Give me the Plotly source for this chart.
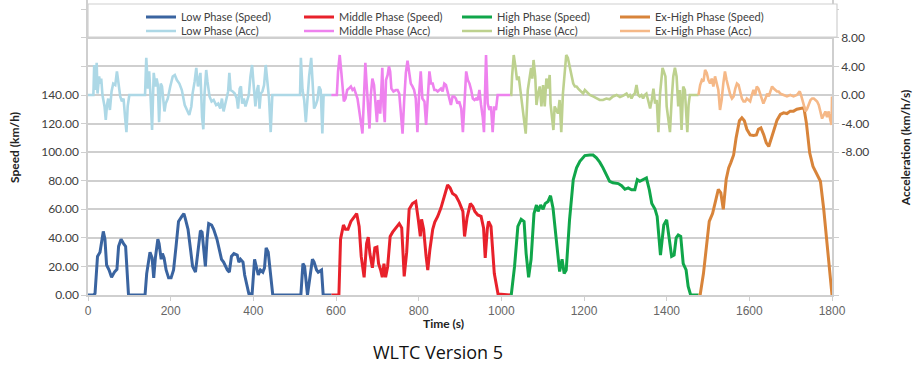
import plotly.graph_objects as go

# ---------------- data ----------------
low_t = [0, 13, 17, 23, 29, 35, 37, 41, 45, 51, 57, 64, 70, 74, 80, 86, 91, 98, 138, 142, 150, 155, 159, 163, 169, 172, 177, 180, 184, 189, 195, 201, 207, 213, 219, 227, 232, 235, 242, 248, 253, 260, 265, 272, 276, 280, 284, 288, 292, 299, 304, 312, 318, 323, 328, 337, 342, 347, 353, 361, 365, 369, 375, 379, 389, 397, 403, 407, 412, 417, 423, 427, 431, 436, 442, 447, 515, 520, 524, 531, 543, 547, 553, 557, 565, 569, 589]
low_v = [0, 0, 1, 27, 30, 44, 44.5, 39, 21, 17.5, 12.4, 16, 18, 34, 39, 36, 34, 0, 0, 15, 30, 26, 12, 26, 39, 36, 25, 29, 26, 17.5, 12, 12, 17.5, 34, 51.5, 55, 57, 54, 46, 32, 20, 16, 29, 45, 44, 32, 20, 39, 50, 49, 46, 39, 32, 25, 23, 17.5, 16, 27, 29, 28, 23, 25, 23, 14, 1, 0.5, 25, 20, 14, 17.5, 16, 19, 33, 30, 10.5, 0, 0, 22, 20, 0, 25, 23, 17.5, 16, 17.5, 0, 0]

mid_t = [589, 607, 611, 618, 623, 629, 636, 642, 650, 656, 661, 668, 674, 678, 682, 688, 694, 699, 703, 708, 712, 716, 720, 725, 731, 737, 745, 753, 759, 765, 771, 777, 785, 793, 799, 804, 807, 812, 818, 822, 827, 834, 839, 846, 854, 862, 870, 876, 882, 890, 898, 907, 911, 917, 925, 931, 936, 943, 951, 957, 961, 966, 969, 975, 983, 992, 1022]
mid_v = [0, 0, 39, 49, 46, 46, 51.5, 54, 57, 48, 27, 12.4, 36, 40.5, 29, 19, 33, 33.5, 22, 17.5, 12.4, 22, 12.4, 20, 41, 44, 47, 50, 47, 13, 30, 60, 64, 65.5, 53, 41, 53, 46, 27, 17.5, 31.5, 46, 51, 55, 61, 69, 77, 75, 71, 69.5, 65, 58.5, 41, 54, 64, 62, 58.5, 56, 55, 47, 26, 46, 51.5, 48, 15, 0.7, 0]

high_t = [1022, 1024, 1032, 1040, 1048, 1055, 1060, 1066, 1072, 1079, 1085, 1089, 1095, 1101, 1106, 1113, 1119, 1125, 1133, 1141, 1147, 1152, 1157, 1165, 1174, 1182, 1190, 1202, 1214, 1222, 1230, 1238, 1246, 1254, 1262, 1270, 1283, 1291, 1299, 1307, 1315, 1323, 1329, 1335, 1343, 1351, 1358, 1364, 1372, 1377, 1385, 1393, 1400, 1406, 1412, 1418, 1423, 1428, 1434, 1440, 1447, 1452, 1458, 1477]
high_v = [0, 0, 20, 48, 53, 51.5, 29, 12.4, 25, 57, 63, 58.5, 63, 60, 64, 65.5, 69.5, 61, 38.6, 16.4, 25, 15, 17.5, 52.6, 80.7, 89, 93.6, 97.6, 98, 98, 96, 93, 89, 84, 79.6, 78.5, 78, 76.5, 74, 75, 73.7, 73.7, 80.7, 79.6, 80.7, 82, 73.7, 64, 60, 55, 28, 49, 52.6, 38.6, 27, 28, 40, 42, 41, 22, 17.5, 6, 0, 0]

exh_t = [1477, 1481, 1489, 1497, 1503, 1511, 1520, 1525, 1531, 1537, 1544, 1550, 1555, 1562, 1568, 1576, 1582, 1588, 1594, 1602, 1610, 1617, 1622, 1628, 1635, 1641, 1647, 1652, 1659, 1667, 1675, 1683, 1691, 1699, 1707, 1715, 1723, 1732, 1738, 1746, 1754, 1764, 1772, 1780, 1788, 1796, 1800]
exh_v = [0, 0, 15, 36, 51.5, 57, 69, 74, 71.5, 60, 81, 89, 92.5, 98, 110, 122, 124, 122, 116, 112, 111.6, 112, 116, 117, 112, 106.5, 104, 108, 115, 122.4, 126.4, 127.5, 127, 128.7, 128.7, 130, 130.3, 131, 120.5, 99.5, 90, 84, 79.6, 60, 34, 10.5, 0]

low_acc_t = [0, 13, 15, 19, 21, 23, 27, 29, 32, 35, 40, 43, 46, 49, 53, 57, 61, 66, 70, 74, 78, 82, 86, 90, 93, 96, 100, 138, 141, 145, 148, 151, 155, 159, 163, 166, 169, 172, 176, 179, 182, 185, 188, 193, 199, 205, 210, 215, 221, 227, 234, 239, 245, 250, 253, 258, 262, 266, 272, 276, 279, 282, 286, 289, 294, 299, 304, 310, 315, 320, 324, 328, 333, 339, 342, 345, 350, 355, 360, 363, 367, 370, 373, 377, 381, 385, 389, 393, 397, 401, 405, 409, 412, 415, 418, 422, 426, 430, 434, 438, 442, 446, 513, 515, 519, 523, 527, 531, 535, 540, 543, 547, 551, 555, 559, 563, 567, 570, 589]
low_acc_v = [0, 0, 4.2, 0.7, 4.5, 0.2, 2.6, 1.6, 2.3, 0, -1.6, -3.5, -1.4, -0.5, -2.1, 0.5, 1.6, 1.4, 3.3, 1.6, -0.2, -0.9, -0.5, -3.3, -5.2, -1.6, 0, 0, 5.2, 0.9, 3.3, 0.2, -4.9, 3.1, 1.2, 2.3, 1.4, -3.8, 1.6, 1.2, -1.2, -2.3, -1.2, -0.5, 1.2, 2.6, 2.8, 2.1, 1.6, 0.7, -1.4, -2.1, -2.8, -1.6, 0.2, 1.9, 3.8, 1.2, 3.1, -3.1, -4.8, 0.2, 3.5, 1.9, -0.2, -0.9, -0.7, -1.4, -1.2, -1.9, -0.5, -2.3, -0.9, 0.5, 3.1, 0.7, 0.5, 0.2, -0.5, -1.9, 0.9, 1.2, -1.2, -0.5, -1.6, -0.9, 0, 2.6, 4.2, 1.2, -1.6, 0.7, 1.4, -1.9, 0.2, 0.5, 1.4, 4.2, 1.2, -0.5, -5.2, 0, 0, 5.2, 0.7, -0.7, -3.8, 0, 2.6, 5.2, 1.2, -1.9, -1.4, -0.7, 1.2, 0.7, -5.4, 0, 0]

mid_acc_t = [589, 602, 605, 609, 613, 616, 619, 623, 627, 631, 636, 640, 644, 648, 652, 656, 660, 664, 668, 671, 674, 678, 681, 684, 688, 692, 696, 699, 702, 707, 710, 712, 715, 718, 721, 725, 728, 731, 734, 739, 745, 749, 753, 757, 761, 765, 769, 773, 777, 781, 785, 789, 793, 797, 801, 805, 809, 814, 818, 822, 826, 830, 834, 838, 842, 846, 850, 854, 858, 862, 866, 870, 874, 878, 882, 886, 890, 894, 898, 903, 907, 911, 915, 919, 923, 927, 931, 935, 939, 943, 947, 951, 955, 958, 961, 963, 967, 971, 975, 979, 983, 987, 991, 1022]
mid_acc_v = [0, 0, 3.3, 5.6, 3.1, 0.7, -0.9, -0.5, 0.7, 0.9, 1.2, 0.7, 0.9, 0.2, -0.5, -2.1, -4, -5.4, 0.2, 4.5, 1.6, -2.1, -4.7, -0.2, 2.3, 1.4, -2.1, -3.8, -0.7, -2.6, 1.2, 3.8, -1.6, -3.8, 2.1, 2.8, 4, 3.3, 0.9, 0.5, 0.7, 0.7, 0.2, -2.3, -5.4, -0.7, 3.1, 4.8, 3.3, 1.6, 1.2, 0.7, -0.5, -5.2, 0, 3.3, -0.5, -0.9, -4.2, -0.2, 3.3, 1.6, 1.6, 0.7, 0.7, 0.5, 0.7, 0.9, 0.5, 1.6, 1.4, 0.5, -0.5, -1.4, -0.2, -0.2, -0.5, -1.2, -0.9, -1.9, -5.2, 0.2, 3.3, 2.1, 1.6, 0.7, -0.5, -0.7, -0.5, -0.7, 0.7, -1.4, -3.1, -5.2, 0.7, 5.6, -1.2, -2.1, -1.6, -5.2, -1.6, -2.1, 0, 0]

high_acc_t = [1022, 1024, 1026, 1030, 1034, 1038, 1042, 1046, 1051, 1055, 1059, 1064, 1068, 1072, 1075, 1078, 1082, 1085, 1089, 1093, 1097, 1101, 1105, 1109, 1113, 1117, 1119, 1123, 1126, 1129, 1133, 1137, 1141, 1145, 1149, 1153, 1157, 1161, 1165, 1169, 1174, 1178, 1182, 1186, 1190, 1194, 1198, 1202, 1206, 1214, 1222, 1230, 1238, 1246, 1254, 1262, 1270, 1279, 1287, 1295, 1303, 1307, 1311, 1315, 1319, 1323, 1327, 1331, 1335, 1339, 1343, 1347, 1351, 1355, 1360, 1364, 1368, 1372, 1376, 1380, 1384, 1388, 1390, 1393, 1397, 1400, 1404, 1408, 1412, 1416, 1420, 1424, 1428, 1432, 1436, 1440, 1444, 1447, 1450, 1453, 1456, 1477]
high_acc_v = [0, 0, 2.6, 5.6, 4, 2.1, 2.6, 0.7, -1.2, -3.1, -5.4, 0.7, 2.1, 3.8, 2.3, 4.9, 2.6, -1.4, 0.2, 1.2, -1.6, 1.4, -1.6, 2.3, 0.9, 2.8, -1.2, -3.3, -4.9, -1.6, -2.1, -2.6, -0.7, -5.2, 0.2, 2.6, 5.6, 5.2, 4.2, 3.1, 1.6, 1.2, 1.2, 0.9, 0.7, 0.5, 0.2, 0.7, 0.5, 0, -0.2, -0.5, -0.7, -0.7, -0.5, -0.6, -0.2, 0, -0.3, -0.1, 0.2, -0.2, 0, -0.5, 0, 0.2, 1.4, 0, -0.2, 0, -0.5, 0, 0.2, -0.7, -1.9, -0.7, 0.9, -1.2, -0.7, -5.2, 0.2, 2.6, 3.8, 3.3, 2.6, -1.6, -3.5, -5.2, -0.7, 2.6, 3.8, 2.6, -1.6, 0.7, -4.9, 1.2, 0.7, -1.6, -5.2, -1.4, 0, 0]

exh_acc_t = [1477, 1481, 1485, 1489, 1493, 1497, 1501, 1505, 1509, 1513, 1517, 1521, 1525, 1529, 1533, 1537, 1541, 1545, 1550, 1554, 1558, 1562, 1566, 1570, 1574, 1578, 1582, 1586, 1590, 1594, 1598, 1602, 1606, 1610, 1614, 1618, 1622, 1626, 1630, 1634, 1639, 1643, 1647, 1651, 1655, 1659, 1663, 1667, 1671, 1675, 1683, 1691, 1699, 1707, 1715, 1722, 1725, 1730, 1736, 1740, 1744, 1748, 1752, 1756, 1760, 1764, 1768, 1772, 1776, 1780, 1784, 1788, 1792, 1796, 1799, 1800]
exh_acc_v = [0, 1.4, 2.1, 1.9, 3.5, 3.1, 2.1, 1.6, 2.3, 1.2, 2.6, 1.6, 0.7, -2.1, -0.7, 1.6, 3.3, 2.1, 0.7, 0, -0.5, -0.2, 0.9, 1.6, 1.4, 0.2, -0.5, -0.9, -0.9, -0.5, -0.7, -0.9, 0, 0.7, 0, 1.2, 0.9, 0.2, -0.7, -1.2, -0.5, 0.2, -0.2, 0.5, 1.2, 0.9, 0.7, 0.5, 0.5, 0.2, 0, -0.2, 0, -0.2, 0, 0.5, 0, -0.9, -2.3, -1.9, -1.2, -0.7, -0.5, -0.5, -0.7, -0.9, -1.4, -2.3, -3.3, -2.8, -2.3, -3.1, -2.3, -3.5, -4.2, -0.2]

speed_names = ["Low Phase (Speed)", "Middle Phase (Speed)", "High Phase (Speed)", "Ex-High Phase (Speed)"]
acc_names = ["Low Phase (Acc)", "Middle Phase (Acc)", "High Phase (Acc)", "Ex-High Phase (Acc)"]
speed_colors = ["#3A64A0", "#E8212B", "#10A64A", "#D8843A"]
acc_colors = ["#ADD8E6", "#EE82EE", "#BDD18E", "#F5B887"]

speed_ticks = [0, 20, 40, 60, 80, 100, 120, 140, 160, 180, 200]
speed_labels = ["0.00", "20.00", "40.00", "60.00", "80.00", "100.00", "120.00", "140.00", "", "", ""]
acc_ticks = [-28, -24, -20, -16, -12, -8, -4, 0, 4, 8, 12]
acc_labels = ["", "", "", "", "", "-8.00", "-4.00", "0.00", "4.00", "8.00", ""]
time_ticks = [0, 200, 400, 600, 800, 1000, 1200, 1400, 1600, 1800]

# ---------------- figure ----------------
fig = go.Figure()
speed_series = [(low_t, low_v), (mid_t, mid_v), (high_t, high_v), (exh_t, exh_v)]
acc_series = [(low_acc_t, low_acc_v), (mid_acc_t, mid_acc_v), (high_acc_t, high_acc_v), (exh_acc_t, exh_acc_v)]

for (t, v), name, c in zip(acc_series, acc_names, acc_colors):
    fig.add_trace(go.Scatter(x=t, y=v, name=name, mode="lines", yaxis="y2",
                             line=dict(color=c, width=2.6), legend="legend2"))
for (t, v), name, c in zip(speed_series, speed_names, speed_colors):
    fig.add_trace(go.Scatter(x=t, y=v, name=name, mode="lines", yaxis="y",
                             line=dict(color=c, width=3), legend="legend"))

grid = "#CFCFCF"
LAB = "Lato, 'Open Sans', sans-serif"
tickfont = dict(family=LAB, size=12, color="#404040")

PH = 295.0   # plot height in px (plot area top at page y=0, bottom at page y=295)
PW = 744.0   # plot width in px (page x 88..832)
def py(y):   # page y -> paper fraction
    return (PH - y) / PH
def px(x):   # page x -> paper fraction
    return (x - 88) / PW

legend_common = dict(orientation="h", xanchor="left", yanchor="middle",
                     bgcolor="rgba(0,0,0,0)", borderwidth=0,
                     font=dict(family=LAB, size=11, color="#404040"),
                     entrywidth=113, entrywidthmode="pixels", itemwidth=30,
                     traceorder="normal")

fig.update_layout(
    width=913, height=366,
    margin=dict(l=88, r=81, t=0, b=71),
    paper_bgcolor="white", plot_bgcolor="white",
    showlegend=True,
    legend=dict(x=px(141), y=py(17), **legend_common),
    legend2=dict(x=px(141), y=py(31), **legend_common),
    xaxis=dict(range=[0, 1800], tickvals=time_ticks, showgrid=False, zeroline=False,
               showline=True, linecolor=grid, linewidth=1.5,
               ticks="outside", ticklen=4, tickcolor=grid,
               tickfont=dict(family="'Liberation Sans Narrow', 'Liberation Sans', sans-serif", size=12, color="#666666")),
    yaxis=dict(range=[0, 206.5], tickvals=speed_ticks, ticktext=speed_labels,
               showgrid=True, gridcolor=grid, gridwidth=1.5, zeroline=False,
               showline=True, linecolor=grid, linewidth=1.5,
               ticks="outside", ticklen=5, tickcolor=grid, tickfont=tickfont,
               title=dict(text="<b>Speed (km/h)</b>", standoff=19,
                          font=dict(family=LAB, size=12, color="#222222"))),
    yaxis2=dict(range=[-28, 13.3], overlaying="y", side="right", tickvals=acc_ticks, ticktext=acc_labels,
                showgrid=False, zeroline=False, showline=True, linecolor=grid, linewidth=1.5,
                ticks="outside", ticklen=5, tickcolor=grid, tickfont=tickfont,
                title=dict(text="<b>Acceleration (km/h/s)</b>", standoff=33,
                           font=dict(family=LAB, size=12, color="#222222"))),
    shapes=[dict(type="rect", xref="paper", yref="paper", x0=0, x1=px(837), y0=py(37), y1=py(4),
                 fillcolor="white", line=dict(color=grid, width=1.2), layer="above")],
    annotations=[
        dict(text="<b>Time (s)</b>", xref="paper", yref="paper", x=px(443), y=py(323),
             xanchor="center", yanchor="middle", showarrow=False,
             font=dict(family=LAB, size=12, color="#222222")),
        dict(text="WLTC Version 5", xref="paper", yref="paper", x=px(438), y=py(352),
             xanchor="center", yanchor="middle", showarrow=False,
             font=dict(family="'Open Sans', Lato, sans-serif", size=18, color="#111111")),
    ],
)

fig.write_html("out.html")
